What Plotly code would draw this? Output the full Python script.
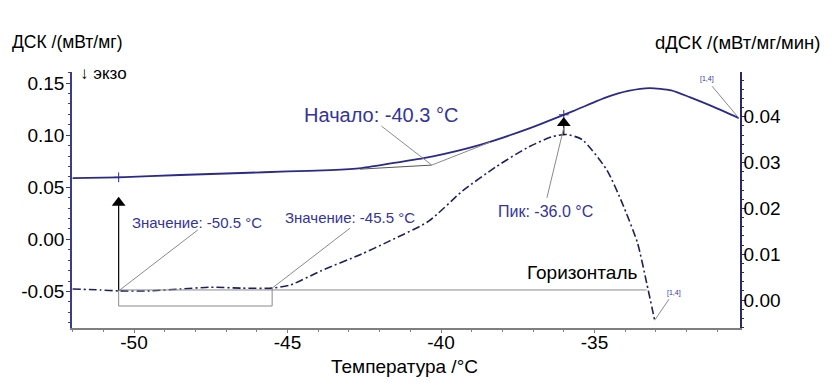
import numpy as np
import plotly.graph_objects as go

# ---------------- data ----------------
T_dsc = [-52.0, -50.5, -48.5, -46.5, -45.0, -43.6, -42.6, -41.4, -40.3, -38.7, -37.1,
         -35.7, -34.6, -33.9, -33.2, -32.5, -31.9, -31.1, -30.3]
dsc = [0.0587, 0.0596, 0.0618, 0.0637, 0.0652, 0.0665, 0.0684, 0.0740, 0.0795, 0.0910, 0.1068,
       0.1230, 0.1365, 0.1425, 0.1452, 0.1430, 0.1365, 0.1269, 0.1164]

T_ddsc = [-52.0, -51.1, -50.5, -49.5, -48.5, -47.5, -46.5, -45.5, -44.9, -43.9,
          -42.6, -41.7, -40.4, -39.3, -38.2, -37.2, -36.4, -35.9, -35.4, -34.6,
          -34.1, -33.6, -33.3, -33.04]
ddsc = [0.0024, 0.0022, 0.0020, 0.0020, 0.0024, 0.0028, 0.0026, 0.0026, 0.0033, 0.0064,
        0.0100, 0.0128, 0.0172, 0.0238, 0.0291, 0.0332, 0.0356, 0.0361, 0.0350, 0.0284,
        0.0212, 0.0125, 0.0037, -0.0044]

x_ticks = [-50, -45, -40, -35]
x_ticklabels = ["-50", "-45", "-40", "-35"]
y_ticks = [-0.05, 0.00, 0.05, 0.10, 0.15]
y_ticklabels = ["-0.05", "0.00", "0.05", "0.10", "0.15"]
y2_ticks = [0.00, 0.01, 0.02, 0.03, 0.04]
y2_ticklabels = ["0.00", "0.01", "0.02", "0.03", "0.04"]

onset_T = -40.3
onset_val = 0.0713
value_T = [-50.5, -45.5]
peak_T = -36.0

# ---------------- styles ----------------
FONT = "Liberation Sans, Arial, sans-serif"
NAVY = "#2a2a8a"
DDSC_COL = "#1f1f5c"
GRAY = "#8a8a8a"
TXT_BLUE = "#34349a"

X_RANGE = [-52.02, -30.26]
Y_RANGE = [-0.085, 0.1606]
Y2_RANGE = [-0.0061, 0.04975]

fig = go.Figure()

fig.add_trace(go.Scatter(x=T_dsc, y=dsc, mode="lines", yaxis="y",
                         line=dict(color=NAVY, width=1.8, shape="spline", smoothing=0.6),
                         hoverinfo="skip"))
fig.add_trace(go.Scatter(x=T_ddsc, y=ddsc, mode="lines", yaxis="y2",
                         line=dict(color=DDSC_COL, width=1.6, dash="8px,3px,2px,3px",
                                   shape="spline", smoothing=0.6),
                         hoverinfo="skip"))

# small cross marks on DSC curve
cross_T = [value_T[0], peak_T]
cross_v = list(np.interp(cross_T, T_dsc, dsc))
fig.add_trace(go.Scatter(x=cross_T, y=cross_v, mode="markers", yaxis="y",
                         marker=dict(symbol="cross-thin", size=7,
                                     line=dict(color=NAVY, width=1)),
                         hoverinfo="skip"))

v1 = float(np.interp(value_T[0], T_ddsc, ddsc))
v2 = float(np.interp(value_T[1], T_ddsc, ddsc))
vpk = float(np.interp(peak_T, T_ddsc, ddsc))
arrow_top = 0.0212
peak_top = 0.0386

# arrow triangles
fig.add_trace(go.Scatter(x=[value_T[0], peak_T], y=[arrow_top, peak_top], mode="markers",
                         yaxis="y2",
                         marker=dict(symbol="triangle-up", size=12, color="black"),
                         hoverinfo="skip"))

shapes = []
def seg(x0, y0, x1, y1, yref, color=GRAY, width=1):
    shapes.append(dict(type="line", xref="x", yref=yref, x0=x0, y0=y0, x1=x1, y1=y1,
                       line=dict(color=color, width=width)))

# vertical arrow line at -50.5
seg(value_T[0], v1, value_T[0], arrow_top, "y2", color="black", width=1.2)
# peak arrow short line
seg(peak_T, vpk, peak_T, peak_top, "y2", color="black", width=1.2)
# bracket between value points
seg(value_T[0], v1, value_T[0], -0.0013, "y2")
seg(value_T[0], -0.0013, value_T[1], -0.0013, "y2")
seg(value_T[1], -0.0013, value_T[1], v2, "y2")
# horizontal line
seg(value_T[0], v1 + 0.0002, -33.3, v1 + 0.0002, "y2")
# onset tangents
seg(-42.64, 0.0674, onset_T, onset_val, "y", color="#555555")
seg(onset_T, onset_val, -38.4, 0.0933, "y")
# leaders
seg(-41.94, 0.1087, onset_T, onset_val, "y")
seg(-47.92, 0.0153, value_T[0], v1, "y2")
seg(-42.96, 0.0157, value_T[1], v2, "y2")
seg(-36.55, 0.0223, peak_T, peak_top - 0.001, "y2")
seg(-31.17, 0.147, T_dsc[-1], dsc[-1], "y")
seg(-32.57, 0.0002, T_ddsc[-1], ddsc[-1], "y2")

annotations = []
def txt(x, y, text, yref, size, color, xref="x", xanchor="center"):
    annotations.append(dict(x=x, y=y, xref=xref, yref=yref, text=text, showarrow=False,
                            xanchor=xanchor, yanchor="middle",
                            font=dict(family=FONT, size=size, color=color)))

txt(-41.94, 0.1193, "Начало: -40.3 °C", "y", 20, TXT_BLUE)
txt(-47.95, 0.0170, "Значение: -50.5 °C", "y2", 15, TXT_BLUE)
txt(-42.98, 0.0179, "Значение: -45.5 °C", "y2", 15, TXT_BLUE)
txt(-36.61, 0.0194, "Пик: -36.0 °C", "y2", 16, TXT_BLUE)
txt(-35.41, 0.0061, "Горизонталь", "y2", 19, "black")
txt(-31.34, 0.1538, "[1,4]", "y", 7, TXT_BLUE)
txt(-32.41, 0.0015, "[1,4]", "y2", 7, TXT_BLUE)

# axis titles (paper coords)
txt(-0.0928, 1.117, "ДСК /(мВт/мг)", "paper", 17.5, "black", xref="paper", xanchor="left")
txt(1.1243, 1.117, "dДСК /(мВт/мг/мин)", "paper", 18.5, "black", xref="paper", xanchor="right")
txt(0.009, 0.996, "↓ экзо", "paper", 17, "black", xref="paper", xanchor="left")
txt(0.4985, -0.149, "Температура /°C", "paper", 19, "black", xref="paper")

# page body adds an 8px offset, so the figure is sized to fit the window
fig.update_layout(
    width=824, height=381,
    margin=dict(l=64, r=92, t=64, b=61),
    paper_bgcolor="white", plot_bgcolor="white",
    showlegend=False,
    font=dict(family=FONT, size=19, color="black"),
    shapes=shapes, annotations=annotations,
    xaxis=dict(range=X_RANGE, tickvals=x_ticks, ticktext=x_ticklabels,
               ticks="outside", ticklen=3, tickcolor="#7f7f7f", tickwidth=1,
               minor=dict(dtick=1, tick0=0, ticks="outside", ticklen=2, tickcolor="#7f7f7f"),
               showline=True, linecolor="#7f7f7f", linewidth=1.5, ticklabelstandoff=-7,
               showgrid=False, zeroline=False, tickfont=dict(size=19), automargin=False),
    yaxis=dict(range=Y_RANGE, tickvals=y_ticks, ticktext=y_ticklabels,
               ticks="outside", ticklen=4, tickcolor="#3c3c8c",
               minor=dict(dtick=0.01, tick0=0, ticks="outside", ticklen=2, tickcolor="#3c3c8c"),
               showline=True, linecolor="#3c3c8c", linewidth=1.5, ticklabelstandoff=-2,
               showgrid=False, zeroline=False, tickfont=dict(size=19), automargin=False),
    yaxis2=dict(range=Y2_RANGE, overlaying="y", side="right", tickvals=y2_ticks,
                ticktext=y2_ticklabels,
                ticks="outside", ticklen=4, tickcolor="#2a2a6a",
                minor=dict(dtick=0.002, tick0=0, ticks="outside", ticklen=2, tickcolor="#2a2a6a"),
                showline=True, linecolor="#2a2a6a", linewidth=1.5, ticklabelstandoff=-6,
                showgrid=False, zeroline=False, tickfont=dict(size=19), automargin=False),
)

fig.write_html("out.html")
